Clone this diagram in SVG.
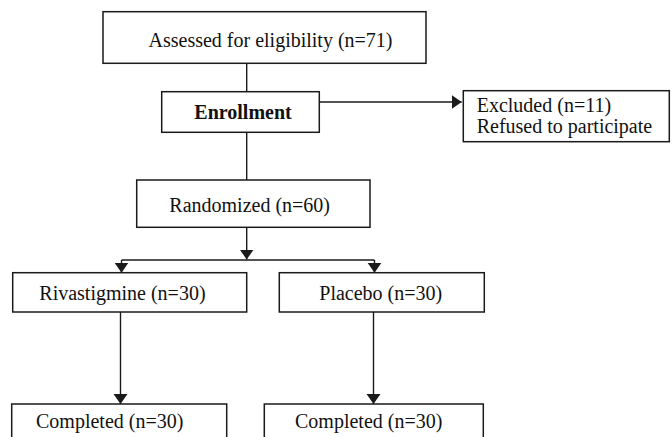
<svg xmlns="http://www.w3.org/2000/svg" width="672" height="437" viewBox="0 0 672 437">
<style>
.box{fill:#fff;stroke:#1a1a1a;stroke-width:1.5}
.ln{fill:none;stroke:#1a1a1a;stroke-width:1.4}
text{font-family:"Liberation Serif","Times New Roman",serif;font-size:20px;fill:#111}
.b{font-weight:bold}
</style>
<defs>
<marker id="ah" markerUnits="userSpaceOnUse" markerWidth="12" markerHeight="16" viewBox="0 0 12 16" refX="10" refY="7" orient="auto">
<path d="M0,0 L10,7 L0,14 Z" fill="#1a1a1a"/>
</marker>
</defs>
<g id="connectors">
<path class="ln" d="M246.7,63.3 V91.7"/>
<path class="ln" d="M246.7,132.3 V180"/>
<path class="ln" d="M319.3,102 H461.7" marker-end="url(#ah)"/>
<path class="ln" d="M246.7,227.3 V259.5" marker-end="url(#ah)"/>
<path class="ln" d="M121.5,260 H374.5"/>
<path class="ln" d="M121.5,260 V272.7" marker-end="url(#ah)"/>
<path class="ln" d="M374.5,260 V272.7" marker-end="url(#ah)"/>
<path class="ln" d="M120.5,312 V404" marker-end="url(#ah)"/>
<path class="ln" d="M373.5,312 V404" marker-end="url(#ah)"/>
</g>
<g id="assessed">
<rect class="box" x="103" y="11.7" width="323" height="51.6"/>
<text x="148.5" y="46.5">Assessed for eligibility (n=71)</text>
</g>
<g id="enrollment">
<rect class="box" x="161.7" y="91.7" width="157.6" height="40.6"/>
<text class="b" x="194.3" y="119">Enrollment</text>
</g>
<g id="excluded">
<rect class="box" x="463.3" y="90.7" width="206" height="51"/>
<text x="476.7" y="111.7">Excluded (n=11)</text>
<text x="476.7" y="133.3">Refused to participate</text>
</g>
<g id="randomized">
<rect class="box" x="136.7" y="180" width="233.3" height="47.3"/>
<text x="169.3" y="211.7">Randomized (n=60)</text>
</g>
<g id="rivastigmine">
<rect class="box" x="12.7" y="272.7" width="234" height="39.3"/>
<text x="39.3" y="300">Rivastigmine (n=30)</text>
</g>
<g id="placebo">
<rect class="box" x="279.3" y="272.7" width="205" height="39.3"/>
<text x="319.3" y="300">Placebo (n=30)</text>
</g>
<g id="completed1">
<rect class="box" x="11.7" y="404" width="215" height="50"/>
<text x="36" y="428.3">Completed (n=30)</text>
</g>
<g id="completed2">
<rect class="box" x="264.3" y="404" width="219" height="50"/>
<text x="295" y="428.3">Completed (n=30)</text>
</g>
</svg>
